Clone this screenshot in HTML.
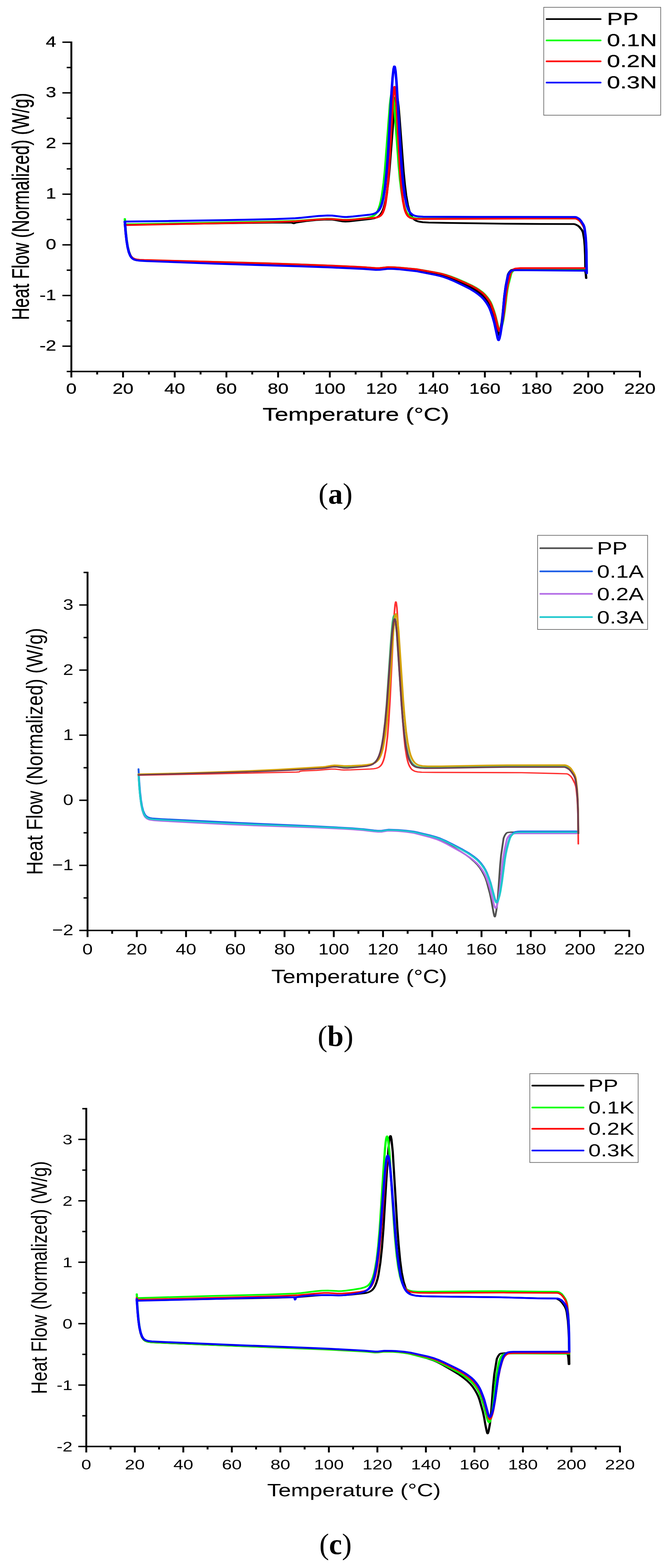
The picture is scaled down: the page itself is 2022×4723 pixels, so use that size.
<!DOCTYPE html>
<html><head><meta charset="utf-8"><title>DSC curves</title>
<style>html,body{margin:0;padding:0;background:#fff;} svg{display:block;}</style>
</head><body>
<svg width="2022" height="4723" viewBox="0 0 2022 4723">
<rect width="2022" height="4723" fill="#fff"/>
<g transform="scale(1.32 1)" stroke="#000" stroke-width="4.3" fill="none" stroke-linecap="butt">
<line x1="162.88" y1="125.0" x2="162.88" y2="1121.2"/>
<line x1="161.25" y1="1119.0" x2="1462.51" y2="1119.0"/>
<line x1="142.42" y1="127.1" x2="162.88" y2="127.1"/>
<line x1="142.42" y1="279.7" x2="162.88" y2="279.7"/>
<line x1="142.42" y1="432.3" x2="162.88" y2="432.3"/>
<line x1="142.42" y1="584.9" x2="162.88" y2="584.9"/>
<line x1="142.42" y1="737.5" x2="162.88" y2="737.5"/>
<line x1="142.42" y1="890.1" x2="162.88" y2="890.1"/>
<line x1="142.42" y1="1042.7" x2="162.88" y2="1042.7"/>
<line x1="152.27" y1="203.4" x2="162.88" y2="203.4"/>
<line x1="152.27" y1="356.0" x2="162.88" y2="356.0"/>
<line x1="152.27" y1="508.6" x2="162.88" y2="508.6"/>
<line x1="152.27" y1="661.2" x2="162.88" y2="661.2"/>
<line x1="152.27" y1="813.8" x2="162.88" y2="813.8"/>
<line x1="152.27" y1="966.4" x2="162.88" y2="966.4"/>
<line x1="152.27" y1="1119.0" x2="162.88" y2="1119.0"/>
<line x1="162.88" y1="1119.0" x2="162.88" y2="1137.0"/>
<line x1="280.88" y1="1119.0" x2="280.88" y2="1137.0"/>
<line x1="398.88" y1="1119.0" x2="398.88" y2="1137.0"/>
<line x1="516.88" y1="1119.0" x2="516.88" y2="1137.0"/>
<line x1="634.88" y1="1119.0" x2="634.88" y2="1137.0"/>
<line x1="752.88" y1="1119.0" x2="752.88" y2="1137.0"/>
<line x1="870.88" y1="1119.0" x2="870.88" y2="1137.0"/>
<line x1="988.88" y1="1119.0" x2="988.88" y2="1137.0"/>
<line x1="1106.88" y1="1119.0" x2="1106.88" y2="1137.0"/>
<line x1="1224.88" y1="1119.0" x2="1224.88" y2="1137.0"/>
<line x1="1342.88" y1="1119.0" x2="1342.88" y2="1137.0"/>
<line x1="1460.88" y1="1119.0" x2="1460.88" y2="1137.0"/>
<line x1="221.88" y1="1119.0" x2="221.88" y2="1128.0"/>
<line x1="339.88" y1="1119.0" x2="339.88" y2="1128.0"/>
<line x1="457.88" y1="1119.0" x2="457.88" y2="1128.0"/>
<line x1="575.88" y1="1119.0" x2="575.88" y2="1128.0"/>
<line x1="693.88" y1="1119.0" x2="693.88" y2="1128.0"/>
<line x1="811.88" y1="1119.0" x2="811.88" y2="1128.0"/>
<line x1="929.88" y1="1119.0" x2="929.88" y2="1128.0"/>
<line x1="1047.88" y1="1119.0" x2="1047.88" y2="1128.0"/>
<line x1="1165.88" y1="1119.0" x2="1165.88" y2="1128.0"/>
<line x1="1283.88" y1="1119.0" x2="1283.88" y2="1128.0"/>
<line x1="1401.88" y1="1119.0" x2="1401.88" y2="1128.0"/>
</g>
<text transform="translate(169.5 140.5) scale(1.300 1)" font-family="&quot;Liberation Sans&quot;, Arial, sans-serif" font-size="43.5" font-weight="normal" text-anchor="end" fill="#000" stroke="#000" stroke-width="0.5">4</text>
<text transform="translate(169.5 293.1) scale(1.300 1)" font-family="&quot;Liberation Sans&quot;, Arial, sans-serif" font-size="43.5" font-weight="normal" text-anchor="end" fill="#000" stroke="#000" stroke-width="0.5">3</text>
<text transform="translate(169.5 445.7) scale(1.300 1)" font-family="&quot;Liberation Sans&quot;, Arial, sans-serif" font-size="43.5" font-weight="normal" text-anchor="end" fill="#000" stroke="#000" stroke-width="0.5">2</text>
<text transform="translate(169.5 598.3) scale(1.300 1)" font-family="&quot;Liberation Sans&quot;, Arial, sans-serif" font-size="43.5" font-weight="normal" text-anchor="end" fill="#000" stroke="#000" stroke-width="0.5">1</text>
<text transform="translate(169.5 750.9) scale(1.300 1)" font-family="&quot;Liberation Sans&quot;, Arial, sans-serif" font-size="43.5" font-weight="normal" text-anchor="end" fill="#000" stroke="#000" stroke-width="0.5">0</text>
<text transform="translate(169.5 903.5) scale(1.300 1)" font-family="&quot;Liberation Sans&quot;, Arial, sans-serif" font-size="43.5" font-weight="normal" text-anchor="end" fill="#000" stroke="#000" stroke-width="0.5">-1</text>
<text transform="translate(169.5 1056.1) scale(1.300 1)" font-family="&quot;Liberation Sans&quot;, Arial, sans-serif" font-size="43.5" font-weight="normal" text-anchor="end" fill="#000" stroke="#000" stroke-width="0.5">-2</text>
<text transform="translate(215.0 1185.5) scale(1.300 1)" font-family="&quot;Liberation Sans&quot;, Arial, sans-serif" font-size="43.5" font-weight="normal" text-anchor="middle" fill="#000" stroke="#000" stroke-width="0.5">0</text>
<text transform="translate(370.8 1185.5) scale(1.300 1)" font-family="&quot;Liberation Sans&quot;, Arial, sans-serif" font-size="43.5" font-weight="normal" text-anchor="middle" fill="#000" stroke="#000" stroke-width="0.5">20</text>
<text transform="translate(526.5 1185.5) scale(1.300 1)" font-family="&quot;Liberation Sans&quot;, Arial, sans-serif" font-size="43.5" font-weight="normal" text-anchor="middle" fill="#000" stroke="#000" stroke-width="0.5">40</text>
<text transform="translate(682.3 1185.5) scale(1.300 1)" font-family="&quot;Liberation Sans&quot;, Arial, sans-serif" font-size="43.5" font-weight="normal" text-anchor="middle" fill="#000" stroke="#000" stroke-width="0.5">60</text>
<text transform="translate(838.0 1185.5) scale(1.300 1)" font-family="&quot;Liberation Sans&quot;, Arial, sans-serif" font-size="43.5" font-weight="normal" text-anchor="middle" fill="#000" stroke="#000" stroke-width="0.5">80</text>
<text transform="translate(993.8 1185.5) scale(1.300 1)" font-family="&quot;Liberation Sans&quot;, Arial, sans-serif" font-size="43.5" font-weight="normal" text-anchor="middle" fill="#000" stroke="#000" stroke-width="0.5">100</text>
<text transform="translate(1149.6 1185.5) scale(1.300 1)" font-family="&quot;Liberation Sans&quot;, Arial, sans-serif" font-size="43.5" font-weight="normal" text-anchor="middle" fill="#000" stroke="#000" stroke-width="0.5">120</text>
<text transform="translate(1305.3 1185.5) scale(1.300 1)" font-family="&quot;Liberation Sans&quot;, Arial, sans-serif" font-size="43.5" font-weight="normal" text-anchor="middle" fill="#000" stroke="#000" stroke-width="0.5">140</text>
<text transform="translate(1461.1 1185.5) scale(1.300 1)" font-family="&quot;Liberation Sans&quot;, Arial, sans-serif" font-size="43.5" font-weight="normal" text-anchor="middle" fill="#000" stroke="#000" stroke-width="0.5">160</text>
<text transform="translate(1616.8 1185.5) scale(1.300 1)" font-family="&quot;Liberation Sans&quot;, Arial, sans-serif" font-size="43.5" font-weight="normal" text-anchor="middle" fill="#000" stroke="#000" stroke-width="0.5">180</text>
<text transform="translate(1772.6 1185.5) scale(1.300 1)" font-family="&quot;Liberation Sans&quot;, Arial, sans-serif" font-size="43.5" font-weight="normal" text-anchor="middle" fill="#000" stroke="#000" stroke-width="0.5">200</text>
<text transform="translate(1928.4 1185.5) scale(1.300 1)" font-family="&quot;Liberation Sans&quot;, Arial, sans-serif" font-size="43.5" font-weight="normal" text-anchor="middle" fill="#000" stroke="#000" stroke-width="0.5">220</text>
<text transform="translate(87.0 964.0) rotate(-90) scale(1 1.000)" font-family="&quot;Liberation Sans&quot;, Arial, sans-serif" font-size="72" textLength="684.0" lengthAdjust="spacingAndGlyphs" stroke="#000" stroke-width="0.6">Heat Flow (Normalized) (W/g)</text>
<text transform="translate(1072.5 1267.0) scale(1.308 1)" font-family="&quot;Liberation Sans&quot;, Arial, sans-serif" font-size="56" font-weight="normal" text-anchor="middle" fill="#000" stroke="#000" stroke-width="0.5">Temperature (°C)</text>
<text x="1011.0" y="1516.5" font-family="&quot;Liberation Serif&quot;, &quot;Times New Roman&quot;, serif" font-size="88" text-anchor="middle" fill="#000">(<tspan font-weight="bold">a</tspan>)</text>
<g transform="scale(1.32 1)">
<path d="M285.0 668.8 L286.9 701.0 L289.0 725.8 L291.4 745.2 L294.2 760.2 L297.3 770.2 L299.1 774.0 L301.2 777.2 L303.4 779.7 L305.9 781.5 L308.9 782.9 L312.4 784.0 L319.6 785.0 L331.7 785.7 L617.7 796.8 L717.1 801.2 L821.7 807.2 L833.0 808.0 L858.6 810.7 L866.9 810.5 L885.7 807.8 L897.0 808.0 L906.8 809.0 L951.2 815.0 L995.6 825.7 L1006.2 828.7 L1014.5 831.7 L1025.8 836.8 L1038.5 843.5 L1061.9 857.3 L1074.7 865.5 L1083.7 872.3 L1092.0 879.5 L1099.5 887.2 L1104.8 893.9 L1110.1 902.3 L1114.6 911.1 L1117.6 917.9 L1120.6 927.1 L1125.1 944.0 L1128.9 960.6 L1136.4 1003.6 L1137.9 1008.7 L1138.7 1009.0 L1140.2 1005.1 L1142.4 993.5 L1145.4 970.8 L1147.7 944.3 L1151.5 890.4 L1154.5 861.4 L1159.7 827.0 L1161.3 822.8 L1163.5 818.4 L1165.8 815.2 L1167.3 813.7 L1170.3 812.4 L1179.3 811.5 L1332.2 811.7 L1333.7 812.1 L1334.7 813.0 L1336.2 816.6 L1337.3 823.7 L1338.2 837.5" fill="none" stroke="#000000" stroke-width="5.3" stroke-linejoin="round" stroke-linecap="round"/>
</g>
<g transform="scale(1.32 1)">
<path d="M285.0 676.5 L621.9 670.6 L664.1 670.4 L665.6 670.6 L670.1 672.6 L671.6 672.4 L676.1 670.4 L701.8 665.5 L721.4 662.9 L740.2 661.5 L756.8 661.4 L762.8 662.4 L782.4 666.9 L788.4 667.3 L796.7 666.9 L847.2 659.3 L854.8 657.4 L860.8 654.6 L864.6 651.6 L868.3 646.8 L871.3 641.0 L873.6 634.9 L875.9 627.0 L878.1 616.6 L880.4 603.1 L882.6 585.9 L886.4 547.1 L889.4 505.8 L900.0 325.4 L901.5 307.2 L903.0 294.7 L904.5 288.6 L905.2 288.2 L906.0 289.6 L907.5 297.4 L909.8 320.9 L912.0 355.1 L921.1 515.3 L924.1 556.5 L927.1 588.5 L930.9 617.2 L934.6 636.3 L936.9 644.3 L939.2 650.4 L941.4 655.1 L944.4 659.7 L946.7 662.2 L949.7 664.6 L952.7 666.2 L956.5 667.6 L965.5 669.4 L979.1 670.3 L1019.0 671.3 L1153.2 673.8 L1234.6 674.7 L1309.9 674.9 L1312.8 675.6 L1319.0 679.4 L1322.6 683.4 L1328.5 693.2 L1330.3 697.9 L1331.3 702.1 L1333.7 720.7 L1335.0 740.8 L1335.9 769.4 L1336.4 812.3 L1336.5 813.8 L1339.3 813.8" fill="none" stroke="#000000" stroke-width="5.3" stroke-linejoin="round" stroke-linecap="round"/>
</g>
<g transform="scale(1.32 1)">
<path d="M285.0 659.7 L286.9 694.0 L289.0 720.4 L291.4 741.2 L294.1 756.4 L297.2 767.4 L298.9 771.5 L301.0 775.0 L303.2 777.6 L305.8 779.7 L308.7 781.2 L312.3 782.3 L318.8 783.2 L328.6 783.8 L496.3 788.9 L599.3 792.7 L679.8 796.2 L743.7 799.4 L803.1 802.9 L831.7 804.8 L858.7 807.6 L867.0 807.4 L885.8 804.7 L900.9 805.1 L912.9 806.2 L952.7 811.1 L997.9 821.6 L1008.4 824.5 L1017.4 827.7 L1028.7 832.6 L1041.5 839.1 L1064.8 852.4 L1076.8 859.9 L1085.8 866.3 L1094.1 873.3 L1101.6 880.7 L1106.9 887.1 L1112.1 895.1 L1116.7 903.6 L1119.7 910.1 L1122.7 918.9 L1127.2 935.1 L1130.9 951.0 L1138.5 992.1 L1140.0 997.0 L1140.7 997.4 L1142.2 995.0 L1144.5 986.8 L1146.7 976.8 L1149.0 962.7 L1152.0 936.3 L1156.5 886.5 L1158.8 867.1 L1160.3 857.5 L1167.0 823.5 L1167.8 821.4 L1170.0 817.5 L1173.8 812.7 L1176.8 810.3 L1179.1 809.4 L1190.3 808.5 L1337.0 809.2" fill="none" stroke="#00ff00" stroke-width="5.3" stroke-linejoin="round" stroke-linecap="round"/>
</g>
<g transform="scale(1.32 1)">
<path d="M285.0 675.7 L645.2 666.5 L676.1 665.1 L725.1 660.3 L746.2 659.0 L757.5 659.1 L781.7 661.7 L793.0 661.9 L808.8 660.5 L836.7 656.5 L844.2 654.7 L850.2 651.8 L854.0 648.9 L857.8 644.4 L860.8 639.0 L863.0 633.4 L865.3 626.0 L867.6 616.4 L869.8 603.9 L872.1 587.7 L875.9 551.0 L878.9 511.2 L890.2 315.9 L891.7 297.9 L893.2 285.8 L894.7 280.5 L895.5 280.6 L896.2 282.4 L897.7 291.4 L900.0 316.6 L910.5 501.6 L913.5 544.1 L916.6 577.0 L920.3 606.5 L924.1 625.9 L926.3 634.1 L928.6 640.3 L930.9 645.0 L933.9 649.5 L938.4 653.6 L944.4 656.5 L952.0 658.0 L964.0 658.7 L1312.8 658.1 L1315.5 658.8 L1318.3 660.4 L1322.1 663.6 L1326.0 669.0 L1331.8 680.7 L1333.6 686.7 L1334.6 692.5 L1336.8 714.5 L1338.0 736.7 L1338.7 761.9 L1339.3 823.0" fill="none" stroke="#00ff00" stroke-width="5.3" stroke-linejoin="round" stroke-linecap="round"/>
</g>
<g transform="scale(1.32 1)">
<path d="M285.0 668.8 L286.9 700.4 L289.0 724.7 L291.4 743.7 L294.1 757.8 L297.2 767.9 L298.9 771.7 L301.0 774.9 L303.2 777.3 L305.8 779.2 L308.7 780.6 L312.3 781.6 L318.8 782.6 L329.4 783.2 L478.3 788.3 L615.9 793.5 L698.6 797.1 L758.0 800.2 L812.9 803.5 L832.4 804.9 L858.7 807.6 L867.0 807.4 L885.8 804.7 L900.1 805.1 L911.4 806.1 L951.2 811.0 L994.8 821.2 L1005.4 824.1 L1013.6 827.0 L1024.9 831.9 L1037.7 838.3 L1062.5 852.4 L1074.6 859.7 L1083.6 866.1 L1091.8 872.8 L1100.1 880.8 L1105.4 887.1 L1110.6 895.0 L1115.2 903.1 L1118.2 909.4 L1121.2 917.7 L1128.7 944.9 L1131.7 958.6 L1134.7 976.5 L1137.7 991.2 L1139.2 996.2 L1140.0 996.9 L1140.7 996.3 L1141.5 994.7 L1143.7 986.2 L1146.0 975.7 L1148.2 960.8 L1150.5 940.5 L1155.8 881.2 L1158.8 857.6 L1165.5 822.4 L1168.5 816.4 L1172.3 811.6 L1174.6 809.8 L1176.8 808.8 L1188.1 807.7 L1337.0 807.7" fill="none" stroke="#ff0000" stroke-width="5.3" stroke-linejoin="round" stroke-linecap="round"/>
</g>
<g transform="scale(1.32 1)">
<path d="M285.0 678.0 L574.4 670.5 L638.5 668.4 L674.6 666.6 L725.1 661.2 L746.2 659.8 L757.5 659.8 L781.7 662.4 L793.7 662.6 L804.3 661.8 L827.6 658.9 L853.2 656.3 L860.8 654.8 L865.3 652.7 L869.1 649.3 L872.1 644.6 L874.3 639.0 L876.6 631.0 L878.9 619.6 L880.4 609.4 L883.4 580.9 L886.4 538.3 L888.7 495.4 L897.0 298.3 L899.2 267.5 L900.0 262.9 L900.7 261.6 L901.5 263.5 L902.2 268.5 L904.5 300.6 L912.8 499.0 L915.0 541.7 L917.3 574.9 L920.3 606.4 L923.3 626.8 L924.8 634.0 L927.1 642.0 L929.4 647.5 L932.4 652.4 L936.1 655.8 L940.7 657.9 L947.5 659.1 L957.2 659.5 L1248.9 658.2 L1312.8 658.1 L1315.3 658.7 L1318.2 660.4 L1322.1 663.6 L1326.0 669.0 L1331.8 680.7 L1333.6 686.7 L1334.6 692.5 L1336.8 714.5 L1338.0 736.7 L1338.7 761.9 L1339.3 823.0" fill="none" stroke="#ff0000" stroke-width="5.3" stroke-linejoin="round" stroke-linecap="round"/>
</g>
<g transform="scale(1.32 1)">
<path d="M285.0 667.3 L286.9 699.9 L289.0 724.9 L291.4 744.6 L294.2 759.7 L297.3 770.0 L299.1 773.8 L301.2 777.1 L303.4 779.6 L306.1 781.6 L309.1 783.1 L312.7 784.2 L320.4 785.3 L333.9 786.3 L489.5 794.1 L688.8 802.4 L758.0 805.7 L830.2 810.0 L858.0 812.9 L867.0 812.7 L885.8 809.6 L899.3 810.0 L909.9 811.0 L950.5 816.8 L994.8 828.3 L1004.6 831.3 L1012.9 834.4 L1024.9 840.1 L1037.7 847.2 L1061.0 862.0 L1073.8 870.7 L1082.8 877.9 L1091.1 885.5 L1099.4 894.5 L1104.6 901.7 L1109.9 910.8 L1114.4 920.2 L1117.4 927.6 L1120.4 937.5 L1124.9 955.6 L1128.7 973.5 L1136.2 1019.3 L1137.7 1024.5 L1138.5 1024.7 L1140.0 1020.2 L1142.2 1007.6 L1145.2 983.0 L1147.5 954.4 L1151.2 896.9 L1154.3 866.4 L1159.5 829.8 L1162.5 822.3 L1166.3 816.6 L1167.8 815.4 L1169.3 814.7 L1179.1 813.7 L1337.0 815.3" fill="none" stroke="#0000ff" stroke-width="5.8" stroke-linejoin="round" stroke-linecap="round"/>
</g>
<g transform="scale(1.32 1)">
<path d="M285.0 667.3 L383.0 665.8 L512.6 663.1 L576.7 661.5 L627.9 659.8 L673.9 657.5 L688.2 655.9 L726.6 650.7 L747.7 649.1 L758.3 649.3 L781.7 653.1 L786.9 653.6 L793.0 653.5 L805.8 652.2 L844.2 646.7 L852.5 644.5 L858.5 641.2 L862.3 637.6 L865.3 633.0 L868.3 626.1 L870.6 618.8 L872.8 609.0 L875.1 596.0 L878.9 564.6 L882.6 516.9 L885.7 464.7 L893.9 277.8 L896.2 235.0 L898.5 207.5 L900.0 200.2 L900.7 200.2 L901.5 202.6 L903.0 214.5 L905.2 247.9 L915.0 466.8 L917.3 507.8 L920.3 551.2 L924.1 589.5 L927.9 614.1 L930.1 624.2 L932.4 631.8 L934.6 637.3 L937.7 642.6 L942.2 647.3 L947.5 650.2 L955.0 652.0 L966.3 652.8 L1086.1 653.4 L1312.8 653.6 L1315.5 654.2 L1318.3 655.9 L1322.1 659.1 L1326.0 664.8 L1331.8 676.7 L1333.6 682.9 L1334.6 688.8 L1336.8 711.5 L1338.0 734.3 L1338.7 760.2 L1339.3 823.0" fill="none" stroke="#0000ff" stroke-width="5.8" stroke-linejoin="round" stroke-linecap="round"/>
</g>
<rect x="1638.5" y="22.0" width="352.5" height="325.0" fill="none" stroke="#666" stroke-width="2"/>
<line x1="1647.0" y1="57.4" x2="1810.0" y2="57.4" stroke="#000" stroke-width="5" stroke-linecap="round"/>
<text transform="translate(1829.0 74.9) scale(1.400 1)" font-family="&quot;Liberation Sans&quot;, Arial, sans-serif" font-size="51" font-weight="normal" text-anchor="start" fill="#000" stroke="#000" stroke-width="0.5">PP</text>
<line x1="1647.0" y1="121.7" x2="1810.0" y2="121.7" stroke="#00ff00" stroke-width="5" stroke-linecap="round"/>
<text transform="translate(1829.0 139.2) scale(1.400 1)" font-family="&quot;Liberation Sans&quot;, Arial, sans-serif" font-size="51" font-weight="normal" text-anchor="start" fill="#000" stroke="#000" stroke-width="0.5">0.1N</text>
<line x1="1647.0" y1="184.8" x2="1810.0" y2="184.8" stroke="#ff0000" stroke-width="5" stroke-linecap="round"/>
<text transform="translate(1829.0 202.3) scale(1.400 1)" font-family="&quot;Liberation Sans&quot;, Arial, sans-serif" font-size="51" font-weight="normal" text-anchor="start" fill="#000" stroke="#000" stroke-width="0.5">0.2N</text>
<line x1="1647.0" y1="248.7" x2="1810.0" y2="248.7" stroke="#0000ff" stroke-width="5" stroke-linecap="round"/>
<text transform="translate(1829.0 266.2) scale(1.400 1)" font-family="&quot;Liberation Sans&quot;, Arial, sans-serif" font-size="51" font-weight="normal" text-anchor="start" fill="#000" stroke="#000" stroke-width="0.5">0.3N</text>
<g transform="scale(1.32 1)" stroke="#000" stroke-width="4.3" fill="none" stroke-linecap="butt">
<line x1="199.85" y1="1722.2" x2="199.85" y2="2804.8"/>
<line x1="198.22" y1="2802.6" x2="1438.14" y2="2802.6"/>
<line x1="180.91" y1="1822.3" x2="199.85" y2="1822.3"/>
<line x1="180.91" y1="2018.4" x2="199.85" y2="2018.4"/>
<line x1="180.91" y1="2214.4" x2="199.85" y2="2214.4"/>
<line x1="180.91" y1="2410.5" x2="199.85" y2="2410.5"/>
<line x1="180.91" y1="2606.6" x2="199.85" y2="2606.6"/>
<line x1="180.91" y1="2802.6" x2="199.85" y2="2802.6"/>
<line x1="190.76" y1="1724.3" x2="199.85" y2="1724.3"/>
<line x1="190.76" y1="1920.4" x2="199.85" y2="1920.4"/>
<line x1="190.76" y1="2116.4" x2="199.85" y2="2116.4"/>
<line x1="190.76" y1="2312.5" x2="199.85" y2="2312.5"/>
<line x1="190.76" y1="2508.5" x2="199.85" y2="2508.5"/>
<line x1="190.76" y1="2704.6" x2="199.85" y2="2704.6"/>
<line x1="199.85" y1="2802.6" x2="199.85" y2="2822.6"/>
<line x1="312.27" y1="2802.6" x2="312.27" y2="2822.6"/>
<line x1="424.70" y1="2802.6" x2="424.70" y2="2822.6"/>
<line x1="537.12" y1="2802.6" x2="537.12" y2="2822.6"/>
<line x1="649.55" y1="2802.6" x2="649.55" y2="2822.6"/>
<line x1="761.97" y1="2802.6" x2="761.97" y2="2822.6"/>
<line x1="874.39" y1="2802.6" x2="874.39" y2="2822.6"/>
<line x1="986.82" y1="2802.6" x2="986.82" y2="2822.6"/>
<line x1="1099.24" y1="2802.6" x2="1099.24" y2="2822.6"/>
<line x1="1211.67" y1="2802.6" x2="1211.67" y2="2822.6"/>
<line x1="1324.09" y1="2802.6" x2="1324.09" y2="2822.6"/>
<line x1="1436.52" y1="2802.6" x2="1436.52" y2="2822.6"/>
<line x1="256.06" y1="2802.6" x2="256.06" y2="2812.6"/>
<line x1="368.48" y1="2802.6" x2="368.48" y2="2812.6"/>
<line x1="480.91" y1="2802.6" x2="480.91" y2="2812.6"/>
<line x1="593.33" y1="2802.6" x2="593.33" y2="2812.6"/>
<line x1="705.76" y1="2802.6" x2="705.76" y2="2812.6"/>
<line x1="818.18" y1="2802.6" x2="818.18" y2="2812.6"/>
<line x1="930.61" y1="2802.6" x2="930.61" y2="2812.6"/>
<line x1="1043.03" y1="2802.6" x2="1043.03" y2="2812.6"/>
<line x1="1155.45" y1="2802.6" x2="1155.45" y2="2812.6"/>
<line x1="1267.88" y1="2802.6" x2="1267.88" y2="2812.6"/>
<line x1="1380.30" y1="2802.6" x2="1380.30" y2="2812.6"/>
</g>
<text transform="translate(221.0 1837.1) scale(1.190 1)" font-family="&quot;Liberation Sans&quot;, Arial, sans-serif" font-size="47" font-weight="normal" text-anchor="end" fill="#000" >3</text>
<text transform="translate(221.0 2033.2) scale(1.190 1)" font-family="&quot;Liberation Sans&quot;, Arial, sans-serif" font-size="47" font-weight="normal" text-anchor="end" fill="#000" >2</text>
<text transform="translate(221.0 2229.2) scale(1.190 1)" font-family="&quot;Liberation Sans&quot;, Arial, sans-serif" font-size="47" font-weight="normal" text-anchor="end" fill="#000" >1</text>
<text transform="translate(221.0 2425.3) scale(1.190 1)" font-family="&quot;Liberation Sans&quot;, Arial, sans-serif" font-size="47" font-weight="normal" text-anchor="end" fill="#000" >0</text>
<text transform="translate(221.0 2621.4) scale(1.190 1)" font-family="&quot;Liberation Sans&quot;, Arial, sans-serif" font-size="47" font-weight="normal" text-anchor="end" fill="#000" >−1</text>
<text transform="translate(221.0 2817.4) scale(1.190 1)" font-family="&quot;Liberation Sans&quot;, Arial, sans-serif" font-size="47" font-weight="normal" text-anchor="end" fill="#000" >−2</text>
<text transform="translate(263.8 2874.5) scale(1.190 1)" font-family="&quot;Liberation Sans&quot;, Arial, sans-serif" font-size="47" font-weight="normal" text-anchor="middle" fill="#000" >0</text>
<text transform="translate(412.2 2874.5) scale(1.190 1)" font-family="&quot;Liberation Sans&quot;, Arial, sans-serif" font-size="47" font-weight="normal" text-anchor="middle" fill="#000" >20</text>
<text transform="translate(560.6 2874.5) scale(1.190 1)" font-family="&quot;Liberation Sans&quot;, Arial, sans-serif" font-size="47" font-weight="normal" text-anchor="middle" fill="#000" >40</text>
<text transform="translate(709.0 2874.5) scale(1.190 1)" font-family="&quot;Liberation Sans&quot;, Arial, sans-serif" font-size="47" font-weight="normal" text-anchor="middle" fill="#000" >60</text>
<text transform="translate(857.4 2874.5) scale(1.190 1)" font-family="&quot;Liberation Sans&quot;, Arial, sans-serif" font-size="47" font-weight="normal" text-anchor="middle" fill="#000" >80</text>
<text transform="translate(1005.8 2874.5) scale(1.190 1)" font-family="&quot;Liberation Sans&quot;, Arial, sans-serif" font-size="47" font-weight="normal" text-anchor="middle" fill="#000" >100</text>
<text transform="translate(1154.2 2874.5) scale(1.190 1)" font-family="&quot;Liberation Sans&quot;, Arial, sans-serif" font-size="47" font-weight="normal" text-anchor="middle" fill="#000" >120</text>
<text transform="translate(1302.6 2874.5) scale(1.190 1)" font-family="&quot;Liberation Sans&quot;, Arial, sans-serif" font-size="47" font-weight="normal" text-anchor="middle" fill="#000" >140</text>
<text transform="translate(1451.0 2874.5) scale(1.190 1)" font-family="&quot;Liberation Sans&quot;, Arial, sans-serif" font-size="47" font-weight="normal" text-anchor="middle" fill="#000" >160</text>
<text transform="translate(1599.4 2874.5) scale(1.190 1)" font-family="&quot;Liberation Sans&quot;, Arial, sans-serif" font-size="47" font-weight="normal" text-anchor="middle" fill="#000" >180</text>
<text transform="translate(1747.8 2874.5) scale(1.190 1)" font-family="&quot;Liberation Sans&quot;, Arial, sans-serif" font-size="47" font-weight="normal" text-anchor="middle" fill="#000" >200</text>
<text transform="translate(1896.2 2874.5) scale(1.190 1)" font-family="&quot;Liberation Sans&quot;, Arial, sans-serif" font-size="47" font-weight="normal" text-anchor="middle" fill="#000" >220</text>
<text transform="translate(128.0 2635.0) rotate(-90) scale(1 1.000)" font-family="&quot;Liberation Sans&quot;, Arial, sans-serif" font-size="68" textLength="743.5" lengthAdjust="spacingAndGlyphs" >Heat Flow (Normalized) (W/g)</text>
<text transform="translate(1082.3 2961.0) scale(1.210 1)" font-family="&quot;Liberation Sans&quot;, Arial, sans-serif" font-size="57" font-weight="normal" text-anchor="middle" fill="#000" >Temperature (°C)</text>
<text x="1011.0" y="3151.0" font-family="&quot;Liberation Serif&quot;, &quot;Times New Roman&quot;, serif" font-size="88" text-anchor="middle" fill="#000">(<tspan font-weight="bold">b</tspan>)</text>
<g transform="scale(1.32 1)">
<path d="M316.2 2332.1 L318.0 2369.5 L320.0 2398.3 L322.3 2421.0 L325.0 2438.4 L327.9 2450.2 L329.6 2454.7 L331.6 2458.5 L333.7 2461.3 L336.3 2463.7 L339.2 2465.4 L342.7 2466.7 L350.5 2468.2 L364.8 2469.5 L511.3 2479.5 L577.8 2483.4 L716.5 2490.6 L778.7 2494.5 L804.4 2496.5 L829.4 2499.1 L853.7 2503.0 L863.0 2504.1 L870.9 2504.0 L883.0 2501.6 L887.3 2501.1 L906.6 2502.0 L928.1 2504.7 L941.7 2507.1 L947.4 2508.4 L987.4 2522.5 L996.0 2526.0 L1003.1 2529.4 L1013.9 2535.8 L1026.0 2544.4 L1052.5 2565.6 L1064.6 2576.0 L1073.9 2585.1 L1082.5 2595.0 L1089.6 2604.4 L1095.3 2613.9 L1100.3 2624.1 L1104.6 2634.6 L1108.2 2644.9 L1111.1 2655.9 L1118.2 2690.7 L1121.1 2708.0 L1126.8 2749.9 L1128.2 2758.0 L1128.9 2760.4 L1129.7 2761.2 L1130.4 2759.9 L1131.1 2756.7 L1133.2 2741.5 L1136.1 2711.6 L1141.8 2605.3 L1144.0 2575.4 L1149.7 2524.5 L1152.5 2515.9 L1155.4 2510.4 L1156.8 2508.8 L1158.2 2507.9 L1162.5 2507.0 L1166.8 2506.6 L1316.2 2506.6" fill="none" stroke="#505050" stroke-width="4.2" stroke-linejoin="round" stroke-linecap="round"/>
</g>
<g transform="scale(1.32 1)">
<path d="M316.2 2316.4 L317.9 2354.7 L319.8 2385.7 L321.9 2409.8 L324.3 2428.7 L326.9 2442.1 L330.2 2451.9 L332.0 2455.4 L334.1 2458.3 L336.5 2460.6 L339.4 2462.3 L343.6 2463.9 L349.1 2465.0 L370.5 2466.8 L544.2 2478.2 L704.3 2487.5 L776.5 2492.3 L803.7 2494.5 L829.4 2497.2 L853.7 2500.9 L862.3 2501.9 L870.9 2501.8 L883.0 2499.3 L887.3 2498.7 L908.8 2499.7 L927.4 2501.7 L945.2 2504.6 L952.4 2506.6 L981.0 2515.6 L993.8 2520.2 L1004.6 2525.0 L1016.7 2532.0 L1031.7 2541.8 L1056.7 2559.1 L1069.6 2568.9 L1082.5 2580.6 L1088.2 2586.7 L1092.5 2591.9 L1098.2 2600.3 L1103.9 2610.4 L1108.2 2619.7 L1111.8 2629.5 L1116.1 2644.0 L1120.4 2660.8 L1129.7 2707.2 L1131.8 2714.2 L1133.2 2716.1 L1133.9 2716.1 L1135.4 2714.2 L1137.5 2707.8 L1140.4 2694.7 L1142.5 2681.4 L1146.1 2651.5 L1152.5 2586.5 L1154.7 2569.6 L1156.8 2556.4 L1161.1 2534.4 L1164.0 2522.4 L1166.8 2515.2 L1170.4 2510.1 L1173.3 2507.4 L1176.8 2505.4 L1181.1 2504.5 L1188.3 2503.9 L1316.2 2503.8" fill="none" stroke="#1a5ce6" stroke-width="4.3" stroke-linejoin="round" stroke-linecap="round"/>
</g>
<g transform="scale(1.32 1)">
<path d="M316.2 2332.1 L318.0 2370.3 L320.0 2399.7 L322.3 2422.9 L325.0 2440.7 L328.1 2453.2 L329.8 2457.7 L331.7 2461.4 L333.9 2464.3 L336.4 2466.7 L339.4 2468.4 L342.9 2469.7 L351.9 2471.4 L370.5 2473.0 L448.4 2478.7 L520.6 2483.4 L583.5 2486.9 L722.2 2493.2 L784.4 2496.9 L805.1 2498.5 L829.4 2501.1 L853.7 2504.9 L863.0 2505.8 L870.9 2505.8 L883.0 2503.2 L887.3 2502.7 L907.4 2503.5 L926.7 2505.9 L945.2 2509.5 L982.4 2522.2 L998.1 2528.8 L1008.1 2534.4 L1019.6 2542.0 L1050.3 2564.4 L1061.8 2573.3 L1071.8 2582.1 L1080.3 2590.6 L1087.5 2598.8 L1093.2 2606.8 L1098.9 2616.5 L1103.9 2626.7 L1107.5 2635.5 L1110.4 2644.4 L1115.4 2662.9 L1118.9 2678.1 L1128.2 2728.1 L1129.7 2733.2 L1131.1 2735.5 L1131.8 2735.4 L1132.5 2734.3 L1134.7 2726.8 L1136.8 2714.9 L1138.9 2698.7 L1141.8 2668.8 L1147.5 2595.2 L1151.1 2564.4 L1156.8 2529.9 L1158.2 2524.8 L1159.7 2521.4 L1163.3 2515.6 L1165.4 2513.4 L1168.3 2511.8 L1172.5 2511.0 L1178.3 2510.5 L1316.2 2510.5" fill="none" stroke="#b46ee6" stroke-width="4.3" stroke-linejoin="round" stroke-linecap="round"/>
</g>
<g transform="scale(1.32 1)">
<path d="M316.2 2332.1 L318.0 2369.5 L320.0 2398.3 L322.3 2421.0 L325.0 2438.4 L328.1 2450.6 L329.8 2455.0 L331.7 2458.7 L333.9 2461.5 L336.4 2463.8 L339.2 2465.5 L342.8 2466.8 L351.2 2468.3 L366.2 2469.6 L515.6 2479.7 L580.0 2483.5 L717.2 2490.3 L778.7 2494.1 L803.0 2496.0 L826.6 2498.4 L853.7 2502.5 L863.0 2503.5 L870.9 2503.4 L883.0 2500.8 L887.3 2500.3 L897.3 2500.5 L910.2 2501.3 L929.5 2503.6 L947.4 2506.9 L985.3 2519.0 L1001.0 2525.3 L1011.0 2530.6 L1022.4 2537.7 L1053.2 2558.9 L1064.6 2567.3 L1073.9 2575.0 L1082.5 2583.1 L1089.6 2590.8 L1095.3 2598.4 L1100.3 2606.4 L1105.4 2615.9 L1108.9 2624.0 L1112.5 2634.4 L1117.5 2651.9 L1121.1 2666.5 L1129.7 2709.8 L1131.8 2716.9 L1133.2 2718.8 L1133.9 2718.8 L1135.4 2716.9 L1137.5 2710.5 L1140.4 2697.3 L1142.5 2684.1 L1146.1 2654.2 L1152.5 2589.2 L1154.7 2572.3 L1156.8 2559.1 L1161.1 2537.1 L1164.0 2525.1 L1166.8 2517.9 L1170.4 2512.8 L1173.3 2510.1 L1176.8 2508.2 L1181.1 2507.3 L1188.3 2506.7 L1316.2 2506.6" fill="none" stroke="#1ec8cd" stroke-width="4.6" stroke-linejoin="round" stroke-linecap="round"/>
</g>
<g transform="scale(1.32 1)">
<path d="M316.2 2335.0 L471.2 2331.4 L676.5 2325.6 L682.9 2325.2 L685.1 2323.1 L690.8 2322.1 L723.1 2320.3 L756.1 2316.6 L765.4 2316.6 L779.1 2318.9 L784.8 2319.3 L801.3 2318.9 L845.1 2316.4 L853.0 2315.6 L858.0 2314.5 L862.3 2312.8 L865.9 2310.2 L869.5 2305.8 L872.4 2300.1 L875.2 2291.3 L877.4 2281.7 L881.0 2257.6 L884.6 2218.6 L887.4 2172.7 L890.3 2111.0 L899.6 1856.6 L901.8 1822.4 L903.2 1813.2 L903.9 1813.1 L904.7 1816.0 L906.1 1830.7 L908.2 1871.7 L916.9 2112.4 L919.0 2161.1 L921.9 2212.1 L924.7 2248.8 L928.3 2279.4 L930.5 2291.7 L932.6 2300.8 L934.8 2307.6 L937.7 2313.9 L939.8 2317.2 L942.0 2319.6 L947.0 2323.1 L953.5 2325.1 L962.1 2326.0 L992.2 2326.5 L1191.0 2327.4 L1272.1 2330.0 L1293.7 2330.9 L1296.3 2331.8 L1299.1 2334.0 L1302.9 2338.2 L1306.7 2345.2 L1312.5 2360.2 L1314.4 2368.1 L1315.4 2375.0 L1317.6 2403.4 L1318.9 2434.2 L1319.6 2465.7 L1320.2 2541.9" fill="none" stroke="#ff3030" stroke-width="3.8" stroke-linejoin="round" stroke-linecap="round"/>
</g>
<g transform="scale(1.32 1)">
<path d="M316.2 2333.1 L393.0 2330.6 L482.0 2327.1 L652.1 2319.0 L738.2 2312.0 L743.9 2311.2 L757.5 2308.3 L762.6 2307.6 L768.3 2307.7 L781.9 2309.3 L788.4 2309.5 L799.2 2309.0 L824.3 2306.9 L834.3 2305.6 L842.2 2303.9 L848.0 2301.7 L853.0 2298.5 L856.6 2294.8 L860.2 2289.3 L863.0 2282.9 L865.9 2274.1 L868.8 2261.9 L870.9 2250.0 L875.2 2216.6 L878.8 2176.5 L882.4 2123.2 L891.7 1941.0 L894.6 1892.3 L896.0 1874.2 L897.5 1861.4 L898.9 1854.8 L899.6 1853.9 L900.3 1854.7 L901.1 1857.1 L902.5 1866.6 L905.4 1902.5 L916.9 2124.6 L919.7 2169.2 L923.3 2212.9 L926.9 2244.6 L931.2 2270.3 L935.5 2286.7 L938.4 2294.0 L941.3 2299.2 L943.4 2302.2 L946.3 2305.2 L949.1 2307.3 L952.7 2309.1 L960.6 2311.1 L972.8 2312.1 L1005.8 2311.9 L1109.9 2309.3 L1156.5 2308.6 L1290.0 2308.6 L1293.7 2309.8 L1296.9 2311.9 L1300.8 2315.5 L1303.1 2318.7 L1305.7 2323.5 L1309.7 2331.6 L1311.7 2336.7 L1313.5 2343.4 L1314.8 2351.0 L1317.3 2378.5 L1318.7 2407.5 L1319.6 2442.6 L1320.2 2510.5" fill="none" stroke="#3cb371" stroke-width="4" stroke-linejoin="round" stroke-linecap="round"/>
</g>
<g transform="scale(1.32 1)">
<path d="M316.2 2332.1 L399.5 2329.4 L494.9 2325.6 L569.5 2322.0 L635.5 2318.1 L737.4 2310.1 L743.2 2309.3 L756.8 2306.0 L762.6 2305.1 L769.0 2305.2 L784.1 2306.7 L790.6 2307.0 L802.8 2306.6 L826.4 2304.9 L837.9 2303.5 L846.5 2301.7 L852.3 2299.7 L857.3 2296.5 L860.9 2292.8 L864.5 2287.2 L867.3 2280.7 L870.2 2271.7 L873.1 2259.3 L875.2 2247.2 L879.5 2213.4 L883.1 2172.8 L886.7 2118.8 L896.0 1935.3 L898.9 1886.8 L900.3 1868.9 L901.8 1856.4 L903.2 1850.1 L903.9 1849.4 L904.7 1850.4 L905.4 1853.0 L906.8 1862.9 L909.7 1899.4 L920.4 2109.8 L923.3 2156.4 L926.9 2202.5 L930.5 2236.1 L934.8 2263.6 L936.9 2273.3 L939.8 2283.2 L942.7 2290.4 L945.6 2295.6 L947.7 2298.5 L950.6 2301.4 L953.5 2303.5 L957.0 2305.2 L964.9 2307.2 L976.4 2308.1 L1007.3 2307.9 L1109.9 2305.4 L1156.5 2304.7 L1290.0 2304.6 L1293.7 2305.9 L1296.9 2308.1 L1300.8 2311.7 L1303.1 2314.9 L1305.7 2319.9 L1309.7 2328.1 L1311.7 2333.3 L1313.5 2340.1 L1314.8 2347.9 L1317.3 2375.9 L1318.7 2405.5 L1319.6 2441.3 L1320.2 2510.5" fill="none" stroke="#d4a20a" stroke-width="4.5" stroke-linejoin="round" stroke-linecap="round"/>
</g>
<g transform="scale(1.32 1)">
<path d="M316.2 2334.0 L543.0 2325.9 L626.9 2322.0 L659.9 2320.0 L734.6 2314.3 L742.5 2313.4 L756.8 2310.4 L763.3 2309.6 L769.7 2310.0 L785.5 2313.2 L793.4 2313.3 L826.4 2309.4 L835.8 2307.9 L845.1 2305.2 L848.7 2303.3 L851.6 2301.4 L855.9 2297.0 L859.4 2291.6 L862.3 2285.4 L865.2 2277.0 L868.1 2265.8 L870.2 2254.9 L873.1 2236.5 L875.2 2219.0 L879.5 2172.9 L883.1 2121.9 L892.5 1952.7 L895.3 1906.9 L898.2 1875.5 L899.6 1867.2 L900.3 1865.1 L901.1 1864.4 L901.8 1865.3 L903.2 1872.6 L906.1 1907.0 L916.9 2125.4 L919.7 2172.8 L923.3 2218.6 L926.9 2250.9 L930.5 2273.0 L932.6 2282.5 L934.8 2289.9 L937.7 2297.2 L940.5 2302.4 L942.7 2305.3 L945.6 2308.1 L948.4 2310.1 L951.3 2311.4 L959.2 2313.3 L970.0 2314.1 L1004.4 2313.9 L1110.6 2311.3 L1158.0 2310.6 L1287.1 2310.5 L1289.3 2310.8 L1292.0 2312.0 L1295.6 2314.4 L1299.5 2317.8 L1302.1 2321.2 L1305.3 2326.8 L1309.1 2333.9 L1311.3 2339.1 L1313.1 2345.5 L1314.4 2353.1 L1317.0 2379.1 L1318.6 2408.5 L1319.4 2437.6 L1320.2 2510.5" fill="none" stroke="#6e3c50" stroke-width="4.2" stroke-linejoin="round" stroke-linecap="round"/>
</g>
<rect x="1620.0" y="1612.5" width="331.5" height="283.5" fill="none" stroke="#666" stroke-width="2"/>
<line x1="1628.0" y1="1651.2" x2="1784.0" y2="1651.2" stroke="#505050" stroke-width="5" stroke-linecap="round"/>
<text transform="translate(1799.0 1670.2) scale(1.270 1)" font-family="&quot;Liberation Sans&quot;, Arial, sans-serif" font-size="54" font-weight="normal" text-anchor="start" fill="#000" >PP</text>
<line x1="1628.0" y1="1720.9" x2="1784.0" y2="1720.9" stroke="#1a5ce6" stroke-width="5" stroke-linecap="round"/>
<text transform="translate(1799.0 1739.9) scale(1.270 1)" font-family="&quot;Liberation Sans&quot;, Arial, sans-serif" font-size="54" font-weight="normal" text-anchor="start" fill="#000" >0.1A</text>
<line x1="1628.0" y1="1788.7" x2="1784.0" y2="1788.7" stroke="#b46ee6" stroke-width="5" stroke-linecap="round"/>
<text transform="translate(1799.0 1807.7) scale(1.270 1)" font-family="&quot;Liberation Sans&quot;, Arial, sans-serif" font-size="54" font-weight="normal" text-anchor="start" fill="#000" >0.2A</text>
<line x1="1628.0" y1="1858.7" x2="1784.0" y2="1858.7" stroke="#1ec8cd" stroke-width="5" stroke-linecap="round"/>
<text transform="translate(1799.0 1877.7) scale(1.270 1)" font-family="&quot;Liberation Sans&quot;, Arial, sans-serif" font-size="54" font-weight="normal" text-anchor="start" fill="#000" >0.3A</text>
<g transform="scale(1.32 1)" stroke="#000" stroke-width="4.3" fill="none" stroke-linecap="butt">
<line x1="196.97" y1="3337.3" x2="196.97" y2="4359.1"/>
<line x1="195.34" y1="4357.0" x2="1416.93" y2="4357.0"/>
<line x1="178.79" y1="3432.0" x2="196.97" y2="3432.0"/>
<line x1="178.79" y1="3617.0" x2="196.97" y2="3617.0"/>
<line x1="178.79" y1="3802.0" x2="196.97" y2="3802.0"/>
<line x1="178.79" y1="3987.0" x2="196.97" y2="3987.0"/>
<line x1="178.79" y1="4172.0" x2="196.97" y2="4172.0"/>
<line x1="178.79" y1="4357.0" x2="196.97" y2="4357.0"/>
<line x1="187.88" y1="3339.5" x2="196.97" y2="3339.5"/>
<line x1="187.88" y1="3524.5" x2="196.97" y2="3524.5"/>
<line x1="187.88" y1="3709.5" x2="196.97" y2="3709.5"/>
<line x1="187.88" y1="3894.5" x2="196.97" y2="3894.5"/>
<line x1="187.88" y1="4079.5" x2="196.97" y2="4079.5"/>
<line x1="187.88" y1="4264.5" x2="196.97" y2="4264.5"/>
<line x1="196.97" y1="4357.0" x2="196.97" y2="4375.0"/>
<line x1="307.73" y1="4357.0" x2="307.73" y2="4375.0"/>
<line x1="418.48" y1="4357.0" x2="418.48" y2="4375.0"/>
<line x1="529.24" y1="4357.0" x2="529.24" y2="4375.0"/>
<line x1="640.00" y1="4357.0" x2="640.00" y2="4375.0"/>
<line x1="750.76" y1="4357.0" x2="750.76" y2="4375.0"/>
<line x1="861.52" y1="4357.0" x2="861.52" y2="4375.0"/>
<line x1="972.27" y1="4357.0" x2="972.27" y2="4375.0"/>
<line x1="1083.03" y1="4357.0" x2="1083.03" y2="4375.0"/>
<line x1="1193.79" y1="4357.0" x2="1193.79" y2="4375.0"/>
<line x1="1304.55" y1="4357.0" x2="1304.55" y2="4375.0"/>
<line x1="1415.30" y1="4357.0" x2="1415.30" y2="4375.0"/>
<line x1="252.35" y1="4357.0" x2="252.35" y2="4366.0"/>
<line x1="363.11" y1="4357.0" x2="363.11" y2="4366.0"/>
<line x1="473.86" y1="4357.0" x2="473.86" y2="4366.0"/>
<line x1="584.62" y1="4357.0" x2="584.62" y2="4366.0"/>
<line x1="695.38" y1="4357.0" x2="695.38" y2="4366.0"/>
<line x1="806.14" y1="4357.0" x2="806.14" y2="4366.0"/>
<line x1="916.89" y1="4357.0" x2="916.89" y2="4366.0"/>
<line x1="1027.65" y1="4357.0" x2="1027.65" y2="4366.0"/>
<line x1="1138.41" y1="4357.0" x2="1138.41" y2="4366.0"/>
<line x1="1249.17" y1="4357.0" x2="1249.17" y2="4366.0"/>
<line x1="1359.92" y1="4357.0" x2="1359.92" y2="4366.0"/>
</g>
<text transform="translate(218.5 3447.0) scale(1.250 1)" font-family="&quot;Liberation Sans&quot;, Arial, sans-serif" font-size="43" font-weight="normal" text-anchor="end" fill="#000" >3</text>
<text transform="translate(218.5 3632.0) scale(1.250 1)" font-family="&quot;Liberation Sans&quot;, Arial, sans-serif" font-size="43" font-weight="normal" text-anchor="end" fill="#000" >2</text>
<text transform="translate(218.5 3817.0) scale(1.250 1)" font-family="&quot;Liberation Sans&quot;, Arial, sans-serif" font-size="43" font-weight="normal" text-anchor="end" fill="#000" >1</text>
<text transform="translate(218.5 4002.0) scale(1.250 1)" font-family="&quot;Liberation Sans&quot;, Arial, sans-serif" font-size="43" font-weight="normal" text-anchor="end" fill="#000" >0</text>
<text transform="translate(218.5 4187.0) scale(1.250 1)" font-family="&quot;Liberation Sans&quot;, Arial, sans-serif" font-size="43" font-weight="normal" text-anchor="end" fill="#000" >-1</text>
<text transform="translate(218.5 4372.0) scale(1.250 1)" font-family="&quot;Liberation Sans&quot;, Arial, sans-serif" font-size="43" font-weight="normal" text-anchor="end" fill="#000" >-2</text>
<text transform="translate(260.0 4425.5) scale(1.250 1)" font-family="&quot;Liberation Sans&quot;, Arial, sans-serif" font-size="43" font-weight="normal" text-anchor="middle" fill="#000" >0</text>
<text transform="translate(406.2 4425.5) scale(1.250 1)" font-family="&quot;Liberation Sans&quot;, Arial, sans-serif" font-size="43" font-weight="normal" text-anchor="middle" fill="#000" >20</text>
<text transform="translate(552.4 4425.5) scale(1.250 1)" font-family="&quot;Liberation Sans&quot;, Arial, sans-serif" font-size="43" font-weight="normal" text-anchor="middle" fill="#000" >40</text>
<text transform="translate(698.6 4425.5) scale(1.250 1)" font-family="&quot;Liberation Sans&quot;, Arial, sans-serif" font-size="43" font-weight="normal" text-anchor="middle" fill="#000" >60</text>
<text transform="translate(844.8 4425.5) scale(1.250 1)" font-family="&quot;Liberation Sans&quot;, Arial, sans-serif" font-size="43" font-weight="normal" text-anchor="middle" fill="#000" >80</text>
<text transform="translate(991.0 4425.5) scale(1.250 1)" font-family="&quot;Liberation Sans&quot;, Arial, sans-serif" font-size="43" font-weight="normal" text-anchor="middle" fill="#000" >100</text>
<text transform="translate(1137.2 4425.5) scale(1.250 1)" font-family="&quot;Liberation Sans&quot;, Arial, sans-serif" font-size="43" font-weight="normal" text-anchor="middle" fill="#000" >120</text>
<text transform="translate(1283.4 4425.5) scale(1.250 1)" font-family="&quot;Liberation Sans&quot;, Arial, sans-serif" font-size="43" font-weight="normal" text-anchor="middle" fill="#000" >140</text>
<text transform="translate(1429.6 4425.5) scale(1.250 1)" font-family="&quot;Liberation Sans&quot;, Arial, sans-serif" font-size="43" font-weight="normal" text-anchor="middle" fill="#000" >160</text>
<text transform="translate(1575.8 4425.5) scale(1.250 1)" font-family="&quot;Liberation Sans&quot;, Arial, sans-serif" font-size="43" font-weight="normal" text-anchor="middle" fill="#000" >180</text>
<text transform="translate(1722.0 4425.5) scale(1.250 1)" font-family="&quot;Liberation Sans&quot;, Arial, sans-serif" font-size="43" font-weight="normal" text-anchor="middle" fill="#000" >200</text>
<text transform="translate(1868.2 4425.5) scale(1.250 1)" font-family="&quot;Liberation Sans&quot;, Arial, sans-serif" font-size="43" font-weight="normal" text-anchor="middle" fill="#000" >220</text>
<text transform="translate(140.5 4199.0) rotate(-90) scale(1 1.000)" font-family="&quot;Liberation Sans&quot;, Arial, sans-serif" font-size="67" textLength="701.5" lengthAdjust="spacingAndGlyphs" >Heat Flow (Normalized) (W/g)</text>
<text transform="translate(1066.5 4507.0) scale(1.262 1)" font-family="&quot;Liberation Sans&quot;, Arial, sans-serif" font-size="54" font-weight="normal" text-anchor="middle" fill="#000" >Temperature (°C)</text>
<text x="1011.0" y="4681.0" font-family="&quot;Liberation Serif&quot;, &quot;Times New Roman&quot;, serif" font-size="88" text-anchor="middle" fill="#000">(<tspan font-weight="bold">c</tspan>)</text>
<g transform="scale(1.32 1)">
<path d="M312.2 3913.0 L314.0 3949.0 L315.9 3976.6 L318.1 3998.3 L320.8 4015.1 L323.7 4026.3 L325.4 4030.6 L327.3 4034.2 L329.4 4036.9 L331.9 4039.1 L334.7 4040.7 L338.0 4041.9 L343.2 4042.9 L349.5 4043.6 L381.2 4045.5 L548.3 4054.6 L696.4 4061.7 L759.8 4065.1 L833.9 4070.3 L856.4 4072.9 L862.8 4072.8 L876.9 4070.7 L891.0 4070.7 L899.4 4071.2 L916.3 4073.5 L928.3 4075.7 L934.0 4077.2 L974.9 4091.5 L989.0 4097.6 L999.5 4103.6 L1011.5 4111.9 L1036.9 4131.5 L1048.9 4141.4 L1058.0 4150.1 L1066.5 4159.3 L1073.6 4168.3 L1079.2 4177.2 L1084.1 4186.8 L1088.4 4196.7 L1091.9 4206.3 L1094.7 4216.5 L1102.5 4253.1 L1105.3 4270.1 L1108.1 4291.9 L1110.9 4309.7 L1112.3 4316.4 L1113.0 4317.8 L1113.7 4317.5 L1115.2 4311.9 L1118.0 4292.4 L1119.4 4278.5 L1121.5 4250.6 L1125.7 4174.5 L1128.5 4138.8 L1134.2 4093.1 L1137.0 4085.3 L1140.5 4079.1 L1141.9 4077.7 L1143.4 4077.0 L1152.5 4075.8 L1292.8 4076.0 L1294.2 4076.5 L1295.3 4077.7 L1296.6 4082.3 L1297.6 4091.5 L1298.5 4109.1" fill="none" stroke="#000000" stroke-width="5" stroke-linejoin="round" stroke-linecap="round"/>
</g>
<g transform="scale(1.32 1)">
<path d="M312.2 3917.6 L481.5 3912.8 L634.7 3909.0 L679.9 3907.0 L721.5 3902.4 L736.3 3901.2 L748.3 3901.0 L771.6 3901.9 L781.5 3901.7 L802.0 3899.8 L830.9 3895.6 L835.9 3894.5 L840.1 3893.0 L843.6 3891.1 L846.4 3889.0 L850.0 3885.4 L853.5 3879.8 L856.3 3873.3 L859.1 3864.3 L862.0 3851.6 L864.1 3839.0 L868.3 3803.2 L871.9 3759.4 L875.4 3700.3 L883.8 3514.9 L886.7 3461.3 L888.1 3441.6 L889.5 3428.2 L890.9 3421.9 L891.6 3421.6 L892.3 3423.1 L893.7 3431.8 L896.6 3469.0 L907.1 3698.1 L910.0 3748.4 L913.5 3797.3 L917.0 3832.3 L921.3 3860.3 L925.5 3877.7 L928.3 3885.4 L931.1 3890.8 L933.3 3893.9 L936.1 3896.9 L938.9 3899.0 L941.7 3900.5 L949.5 3902.8 L960.8 3904.1 L995.4 3905.2 L1145.0 3907.6 L1226.2 3910.6 L1267.1 3911.2 L1269.2 3911.5 L1272.3 3912.8 L1278.0 3917.1 L1279.9 3919.2 L1282.9 3923.5 L1287.5 3931.9 L1289.7 3936.5 L1291.5 3941.7 L1292.7 3946.4 L1293.9 3953.4 L1296.5 3979.1 L1298.0 4008.2 L1298.9 4036.9 L1299.6 4109.1" fill="none" stroke="#000000" stroke-width="5" stroke-linejoin="round" stroke-linecap="round"/>
</g>
<g transform="scale(1.32 1)">
<path d="M312.2 3898.2 L313.8 3935.6 L315.7 3965.9 L317.7 3989.5 L320.1 4007.9 L322.7 4021.0 L325.9 4030.5 L327.7 4033.9 L329.8 4036.7 L332.2 4038.9 L334.8 4040.5 L338.2 4041.8 L342.4 4042.7 L355.8 4044.0 L548.6 4054.7 L740.8 4064.7 L824.5 4070.4 L836.5 4071.4 L856.2 4073.9 L862.5 4073.8 L876.6 4071.6 L897.7 4072.0 L907.6 4072.9 L918.8 4074.6 L930.1 4076.7 L937.8 4078.8 L980.1 4092.9 L989.9 4097.1 L1000.5 4102.8 L1017.4 4113.7 L1048.3 4135.3 L1061.7 4146.5 L1073.0 4158.0 L1079.3 4166.2 L1084.9 4175.2 L1090.6 4186.4 L1094.8 4197.2 L1099.0 4211.1 L1103.2 4227.7 L1113.1 4276.8 L1115.2 4283.2 L1116.6 4284.5 L1118.0 4283.0 L1119.4 4278.9 L1120.8 4272.3 L1123.0 4258.2 L1125.8 4231.9 L1132.8 4150.7 L1137.0 4117.3 L1139.8 4101.2 L1142.0 4092.5 L1144.8 4085.2 L1147.6 4081.1 L1149.7 4079.2 L1152.5 4077.9 L1156.0 4077.2 L1161.7 4076.8 L1296.8 4077.7" fill="none" stroke="#00ff00" stroke-width="5" stroke-linejoin="round" stroke-linecap="round"/>
</g>
<g transform="scale(1.32 1)">
<path d="M312.2 3909.9 L484.4 3903.4 L608.6 3899.5 L674.2 3896.3 L687.6 3894.8 L720.8 3889.2 L735.6 3887.5 L748.3 3887.2 L772.3 3888.9 L780.1 3888.7 L788.6 3887.8 L805.5 3884.8 L823.9 3880.7 L832.3 3877.7 L838.0 3874.1 L841.5 3870.5 L845.0 3865.1 L847.9 3858.9 L850.7 3850.4 L853.5 3838.6 L855.6 3827.0 L859.9 3794.2 L863.4 3754.0 L866.9 3699.8 L876.1 3510.4 L878.9 3459.9 L880.3 3441.4 L881.7 3428.8 L883.1 3423.0 L883.8 3422.7 L884.6 3424.1 L886.0 3432.3 L888.8 3467.4 L899.4 3686.2 L902.2 3735.0 L905.7 3783.0 L909.3 3817.7 L913.5 3845.8 L915.6 3855.6 L918.4 3865.6 L921.3 3872.9 L924.1 3878.1 L926.2 3881.0 L929.0 3884.0 L931.8 3886.0 L934.7 3887.5 L941.7 3889.5 L953.0 3890.4 L980.5 3890.6 L1092.1 3889.2 L1143.6 3889.0 L1236.7 3890.6 L1272.3 3890.8 L1275.4 3891.7 L1278.1 3893.6 L1281.9 3897.0 L1286.2 3904.0 L1290.0 3911.7 L1291.8 3916.5 L1293.6 3923.1 L1294.7 3929.9 L1297.1 3956.2 L1298.3 3983.7 L1299.0 4011.5 L1299.6 4077.7" fill="none" stroke="#00ff00" stroke-width="5" stroke-linejoin="round" stroke-linecap="round"/>
</g>
<g transform="scale(1.32 1)">
<path d="M312.2 3909.3 L314.0 3945.8 L315.9 3973.8 L318.1 3995.9 L320.8 4012.8 L323.7 4024.2 L325.4 4028.6 L327.3 4032.2 L329.4 4035.0 L331.9 4037.2 L334.7 4038.8 L338.0 4040.0 L346.6 4041.4 L362.8 4042.6 L547.9 4052.8 L688.7 4059.9 L752.0 4063.5 L831.6 4069.1 L856.2 4072.0 L862.5 4071.9 L877.3 4069.7 L902.7 4070.3 L920.3 4072.5 L936.4 4075.6 L975.9 4087.9 L989.9 4093.4 L999.8 4098.4 L1011.7 4105.5 L1039.9 4124.1 L1051.2 4132.0 L1060.3 4139.3 L1068.8 4147.0 L1075.8 4154.5 L1081.4 4161.7 L1086.4 4169.4 L1091.3 4178.6 L1094.8 4186.6 L1097.6 4194.5 L1101.8 4208.7 L1105.4 4222.5 L1114.5 4267.0 L1116.6 4273.6 L1118.0 4275.3 L1118.7 4275.2 L1119.4 4274.6 L1121.5 4269.9 L1124.4 4258.5 L1126.5 4246.7 L1130.0 4220.1 L1137.0 4153.4 L1141.2 4125.1 L1145.5 4104.3 L1148.3 4093.4 L1151.1 4086.6 L1154.6 4081.7 L1157.4 4079.1 L1161.0 4077.3 L1165.2 4076.5 L1172.2 4075.9 L1296.8 4075.8" fill="none" stroke="#ff0000" stroke-width="4.5" stroke-linejoin="round" stroke-linecap="round"/>
</g>
<g transform="scale(1.32 1)">
<path d="M312.2 3914.8 L589.5 3905.6 L642.5 3903.5 L680.6 3901.3 L722.2 3896.0 L739.2 3894.6 L749.7 3894.6 L770.2 3896.3 L782.2 3896.1 L801.3 3894.3 L821.7 3891.2 L831.6 3888.6 L835.1 3887.1 L838.7 3885.0 L842.9 3881.1 L846.4 3876.2 L849.3 3870.7 L852.1 3863.2 L854.9 3852.9 L857.0 3842.9 L861.3 3814.7 L864.8 3780.8 L868.3 3735.3 L871.9 3678.3 L878.2 3562.9 L881.0 3520.4 L882.4 3504.8 L883.8 3494.0 L885.3 3488.7 L886.0 3488.2 L886.7 3489.2 L887.4 3491.6 L888.8 3500.5 L891.6 3533.1 L902.2 3718.8 L905.0 3759.8 L908.6 3800.4 L912.1 3830.1 L916.3 3854.4 L918.4 3863.1 L921.3 3871.8 L924.1 3878.2 L926.9 3882.9 L929.0 3885.5 L931.8 3888.1 L937.5 3891.3 L945.3 3893.2 L956.5 3894.2 L982.0 3894.4 L1149.9 3893.6 L1272.3 3894.5 L1275.4 3895.4 L1278.1 3897.2 L1281.9 3900.6 L1286.2 3907.3 L1290.0 3914.8 L1291.8 3919.4 L1293.6 3925.8 L1294.7 3932.5 L1297.1 3957.9 L1298.3 3984.6 L1299.0 4011.6 L1299.6 4075.8" fill="none" stroke="#ff0000" stroke-width="4.5" stroke-linejoin="round" stroke-linecap="round"/>
</g>
<g transform="scale(1.32 1)">
<path d="M312.2 3913.0 L314.0 3948.2 L315.9 3975.2 L318.1 3996.5 L320.8 4012.9 L323.7 4023.9 L325.4 4028.1 L327.3 4031.6 L329.4 4034.3 L331.9 4036.4 L334.7 4038.0 L338.2 4039.2 L346.6 4040.5 L362.8 4041.6 L547.9 4051.9 L688.0 4058.9 L751.3 4062.5 L830.9 4068.2 L856.2 4071.1 L862.5 4071.0 L877.3 4068.8 L894.2 4068.9 L904.1 4069.4 L921.7 4071.5 L936.4 4074.1 L975.9 4085.6 L990.6 4091.1 L1000.5 4095.9 L1012.5 4102.9 L1039.9 4120.3 L1051.2 4128.0 L1060.3 4135.1 L1068.8 4142.6 L1075.8 4149.8 L1081.4 4156.8 L1086.4 4164.4 L1091.3 4173.4 L1094.8 4181.2 L1097.6 4189.0 L1101.8 4203.0 L1105.4 4216.5 L1114.5 4260.4 L1116.6 4266.8 L1118.0 4268.4 L1118.7 4268.4 L1119.4 4267.8 L1121.5 4263.1 L1124.4 4251.9 L1126.5 4240.2 L1130.0 4214.0 L1137.0 4148.1 L1141.2 4120.2 L1145.5 4099.7 L1148.3 4088.9 L1151.1 4082.2 L1154.6 4077.3 L1157.4 4074.8 L1161.0 4073.1 L1165.2 4072.2 L1172.2 4071.7 L1296.8 4071.5" fill="none" stroke="#0000ff" stroke-width="5.5" stroke-linejoin="round" stroke-linecap="round"/>
</g>
<g transform="scale(1.32 1)">
<path d="M312.2 3918.0 L487.9 3912.6 L593.8 3908.8 L652.3 3907.6 L672.1 3907.4 L673.5 3914.4 L674.2 3913.5 L674.9 3909.2 L675.6 3907.4 L691.2 3904.1 L706.7 3902.2 L723.6 3901.2 L746.9 3901.0 L773.0 3901.9 L787.2 3901.0 L804.1 3898.4 L820.3 3894.9 L829.5 3891.8 L835.9 3888.1 L840.1 3884.1 L843.6 3879.0 L847.1 3871.8 L850.0 3863.9 L852.8 3853.3 L854.9 3843.2 L857.7 3826.0 L859.9 3809.7 L864.1 3766.9 L867.6 3719.5 L876.8 3562.7 L879.6 3520.1 L882.4 3491.0 L883.8 3483.2 L884.6 3481.2 L885.3 3480.5 L886.0 3481.2 L886.7 3483.1 L888.1 3490.9 L890.9 3520.1 L893.7 3563.0 L902.9 3722.6 L906.4 3771.3 L910.0 3809.2 L914.2 3842.0 L918.4 3864.1 L920.6 3872.1 L923.4 3880.4 L926.2 3886.6 L929.0 3891.3 L931.8 3894.7 L934.7 3897.2 L937.5 3899.1 L941.0 3900.7 L949.5 3902.9 L962.2 3904.2 L998.9 3905.3 L1140.8 3907.5 L1228.3 3910.7 L1272.3 3911.2 L1275.6 3912.1 L1282.0 3916.6 L1286.3 3922.7 L1290.1 3929.5 L1291.9 3933.6 L1293.6 3938.9 L1294.7 3944.8 L1297.1 3967.5 L1298.3 3991.2 L1299.0 4015.1 L1299.6 4072.1" fill="none" stroke="#0000ff" stroke-width="5.5" stroke-linejoin="round" stroke-linecap="round"/>
</g>
<rect x="1596.5" y="3234.0" width="326.5" height="267.5" fill="none" stroke="#666" stroke-width="2"/>
<line x1="1604.0" y1="3270.0" x2="1758.5" y2="3270.0" stroke="#000" stroke-width="5" stroke-linecap="round"/>
<text transform="translate(1773.0 3288.0) scale(1.320 1)" font-family="&quot;Liberation Sans&quot;, Arial, sans-serif" font-size="51" font-weight="normal" text-anchor="start" fill="#000" >PP</text>
<line x1="1604.0" y1="3336.0" x2="1758.5" y2="3336.0" stroke="#00ff00" stroke-width="5" stroke-linecap="round"/>
<text transform="translate(1773.0 3354.0) scale(1.320 1)" font-family="&quot;Liberation Sans&quot;, Arial, sans-serif" font-size="51" font-weight="normal" text-anchor="start" fill="#000" >0.1K</text>
<line x1="1604.0" y1="3400.0" x2="1758.5" y2="3400.0" stroke="#ff0000" stroke-width="5" stroke-linecap="round"/>
<text transform="translate(1773.0 3418.0) scale(1.320 1)" font-family="&quot;Liberation Sans&quot;, Arial, sans-serif" font-size="51" font-weight="normal" text-anchor="start" fill="#000" >0.2K</text>
<line x1="1604.0" y1="3465.4" x2="1758.5" y2="3465.4" stroke="#0000ff" stroke-width="5" stroke-linecap="round"/>
<text transform="translate(1773.0 3483.4) scale(1.320 1)" font-family="&quot;Liberation Sans&quot;, Arial, sans-serif" font-size="51" font-weight="normal" text-anchor="start" fill="#000" >0.3K</text>
</svg>
</body></html>
